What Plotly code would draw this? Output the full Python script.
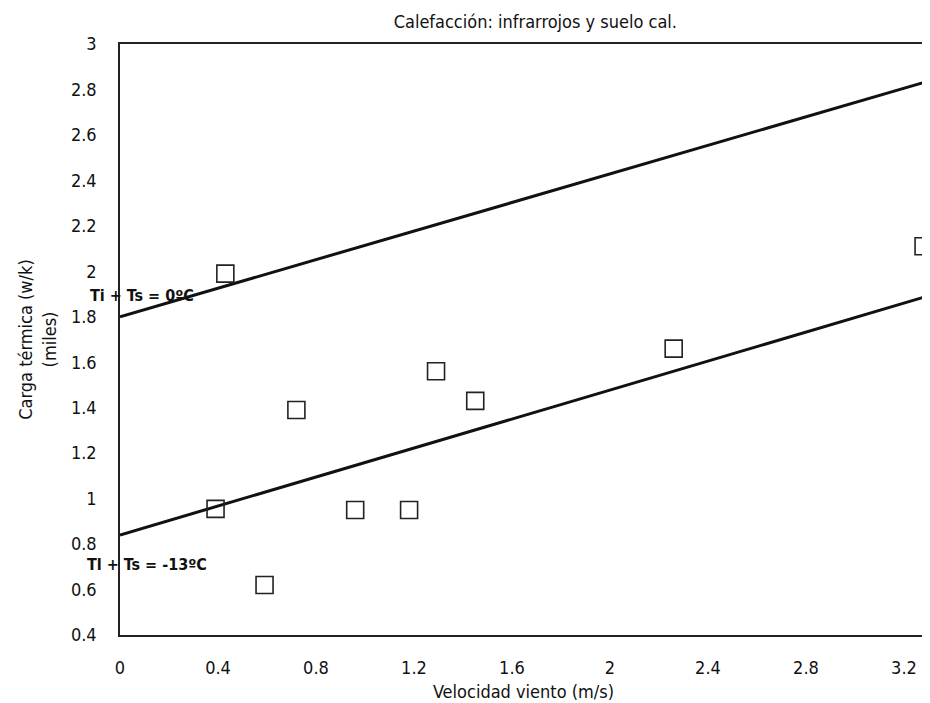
import plotly.graph_objects as go

# Data
viento = [0.43, 0.39, 0.59, 0.72, 0.96, 1.18, 1.29, 1.45, 2.26, 3.28]
carga = [1.99, 0.955, 0.62, 1.39, 0.95, 0.95, 1.56, 1.43, 1.66, 2.11]

linea_x = [0.0, 3.294]
linea_0C = [1.80, 2.835]
linea_m13C = [0.84, 1.89]

x_ticks = [0, 0.4, 0.8, 1.2, 1.6, 2, 2.4, 2.8, 3.2]
x_tick_labels = ["0", "0.4", "0.8", "1.2", "1.6", "2", "2.4", "2.8", "3.2"]
y_ticks = [0.4, 0.6, 0.8, 1, 1.2, 1.4, 1.6, 1.8, 2, 2.2, 2.4, 2.6, 2.8, 3]
y_tick_labels = ["0.4", "0.6", "0.8", "1", "1.2", "1.4", "1.6", "1.8", "2", "2.2", "2.4", "2.6", "2.8", "3"]

FONT = "Liberation Sans Narrow, Arial Narrow, DejaVu Sans Condensed, sans-serif"

fig = go.Figure()
fig.add_trace(go.Scatter(x=linea_x, y=linea_0C, mode="lines",
                         line=dict(color="#111111", width=3), showlegend=False))
fig.add_trace(go.Scatter(x=linea_x, y=linea_m13C, mode="lines",
                         line=dict(color="#111111", width=3), showlegend=False))
fig.add_trace(go.Scatter(x=viento, y=carga, mode="markers",
                         marker=dict(symbol="square-open", size=17,
                                     color="#222222", line=dict(width=1.6, color="#222222")),
                         cliponaxis=False, showlegend=False))

fig.add_annotation(x=-0.0396, y=1.894, xref="paper", yref="y", text="<b>Ti + Ts = 0ºC</b>",
                   showarrow=False, xanchor="left", yanchor="middle",
                   font=dict(family=FONT, size=16, color="#111111"))
fig.add_annotation(x=-0.0433, y=0.708, xref="paper", yref="y", text="<b>Tl + Ts = -13ºC</b>",
                   showarrow=False, xanchor="left", yanchor="middle",
                   font=dict(family=FONT, size=16, color="#111111"))

fig.update_layout(
    width=930, height=703,
    margin=dict(l=112, r=9, t=36, b=76),
    paper_bgcolor="white", plot_bgcolor="white",
    font=dict(family=FONT, size=18, color="#111111"),
    title=dict(text="Calefacción: infrarrojos y suelo cal.", x=0.567, xanchor="center",
               y=0.981, yanchor="middle", font=dict(family=FONT, size=18, color="#111111")),
    xaxis=dict(range=[0, 3.294], tickvals=x_ticks, ticktext=x_tick_labels,
               showgrid=False, zeroline=False, showline=True, linecolor="#222222",
               linewidth=1.5, mirror=True, ticks="", ticklabelstandoff=16,
               title=dict(text="Velocidad viento (m/s)", standoff=8,
                          font=dict(family=FONT, size=18))),
    yaxis=dict(range=[0.4, 3.0], tickvals=y_ticks, ticktext=y_tick_labels,
               showgrid=False, zeroline=False, showline=True, linecolor="#222222",
               linewidth=1.5, mirror=True, ticks="", ticklabelstandoff=18,
               title=dict(text="Carga térmica (w/k)<br>(miles)", standoff=10,
                          font=dict(family=FONT, size=18))),
)

fig.write_html("out.html")
